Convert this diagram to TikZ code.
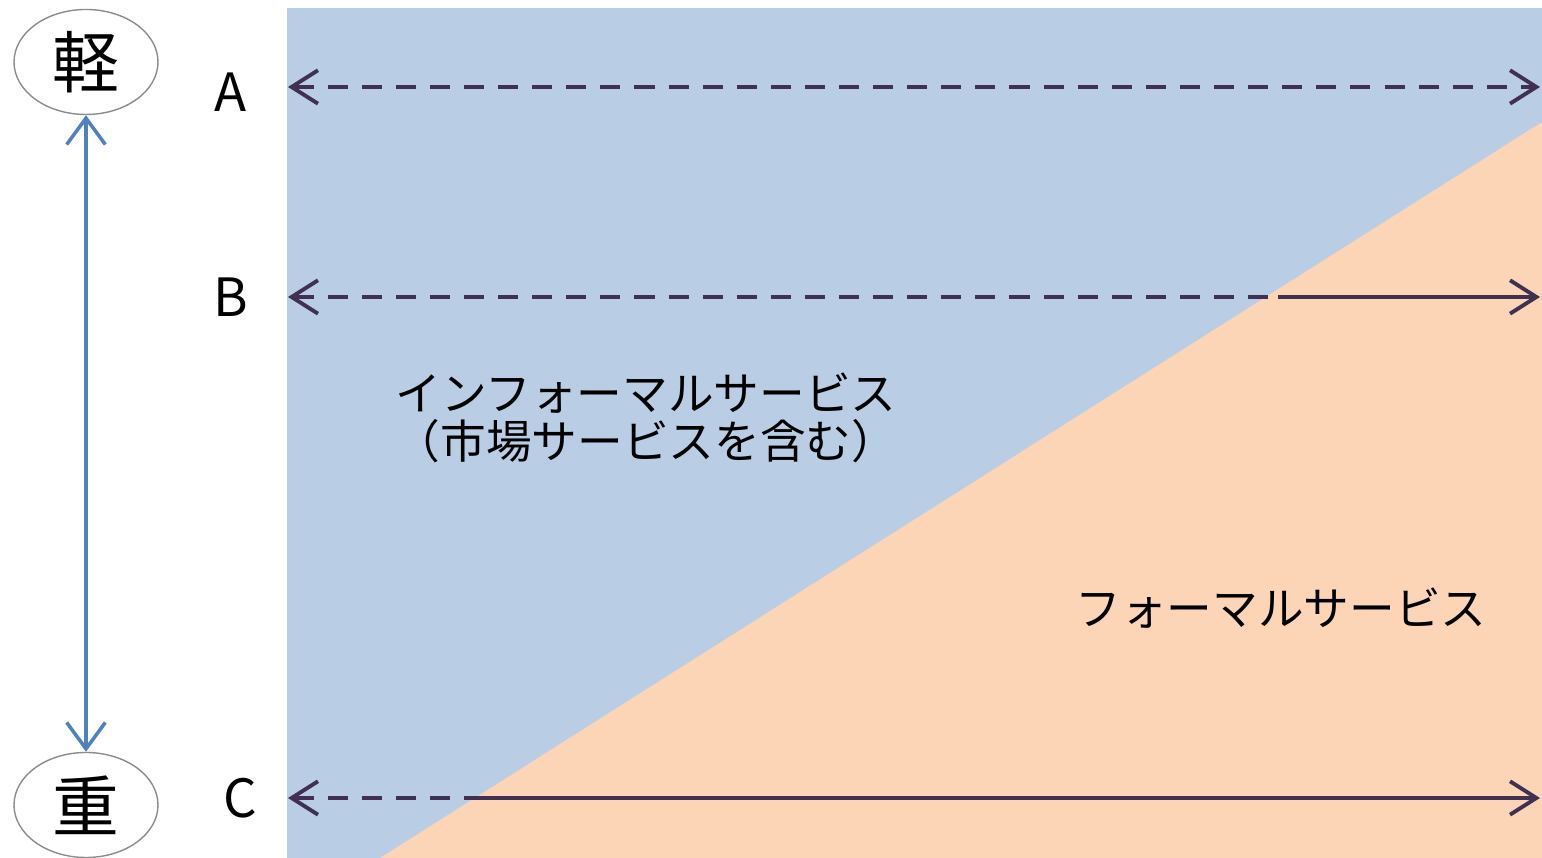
\documentclass[tikz,border=0pt]{standalone}
\usepackage{fontspec}
\setmainfont{Noto Sans CJK JP}
\usetikzlibrary{arrows.meta, shapes.geometric}
\definecolor{infoblue}{HTML}{B9CDE5}
\definecolor{formalorange}{HTML}{FBD5B5}
\definecolor{linepurple}{HTML}{403152}
\definecolor{axisblue}{HTML}{4F81BD}
\tikzstyle{weightbox} = [ellipse, draw=black!45, minimum width=1.44cm, minimum height=1.05cm, inner sep=0pt, font=\fontsize{19}{19}\selectfont]
\tikzstyle{levellabel} = [font=\fontsize{15}{15}\selectfont]
\tikzstyle{svclabel} = [align=center, font=\fontsize{13}{13.5}\selectfont]
\tikzstyle{spanline} = [linepurple, line width=1.1pt]
\tikzstyle{spandash} = [spanline, dash pattern=on 5.7pt off 4pt]
\tikzstyle{weightarrow} = [axisblue, line width=1pt, <->, >={Straight Barb[length=7.5pt,width=11pt]}]

\begin{document}
\begin{tikzpicture}[>={Straight Barb[length=7.5pt,width=9.5pt]}]
    \useasboundingbox (0,0) rectangle (15.42,8.58);
    \fill [infoblue] (2.87,0) rectangle (15.42,8.50);
    \fill [formalorange] (3.80,0) -- (15.42,7.36) -- (15.42,0) -- cycle;
    \node (Light) [weightbox] at (0.86,7.96) {軽};
    \node (Heavy) [weightbox] at (0.86,0.53) {重};
    \draw [weightarrow] (Heavy) -- (Light);
    \node (LevelA) [levellabel] at (2.31,7.66) {A};
    \node (LevelB) [levellabel] at (2.31,5.61) {B};
    \node (LevelC) [levellabel] at (2.40,0.60) {C};
    \node (Informal) [svclabel] at (6.46,4.40) {インフォーマルサービス\\（市場サービスを含む）};
    \node (Formal) [svclabel] at (12.81,2.50) {フォーマルサービス};
    \coordinate (AStart) at (2.88,7.71);
    \coordinate (AEnd) at (15.40,7.71);
    \coordinate (BStart) at (2.88,5.61);
    \coordinate (BCross) at (12.78,5.61);
    \coordinate (BEnd) at (15.40,5.61);
    \coordinate (CStart) at (2.88,0.60);
    \coordinate (CCross) at (4.64,0.60);
    \coordinate (CEnd) at (15.40,0.60);
    \draw [spandash, <->] (AStart) -- (AEnd);
    \draw [spandash, <-] (BStart) -- (BCross);
    \draw [spanline, ->] (BCross) -- (BEnd);
    \draw [spandash, <-] (CStart) -- (CCross);
    \draw [spanline, ->] (CCross) -- (CEnd);
\end{tikzpicture}
\end{document}
